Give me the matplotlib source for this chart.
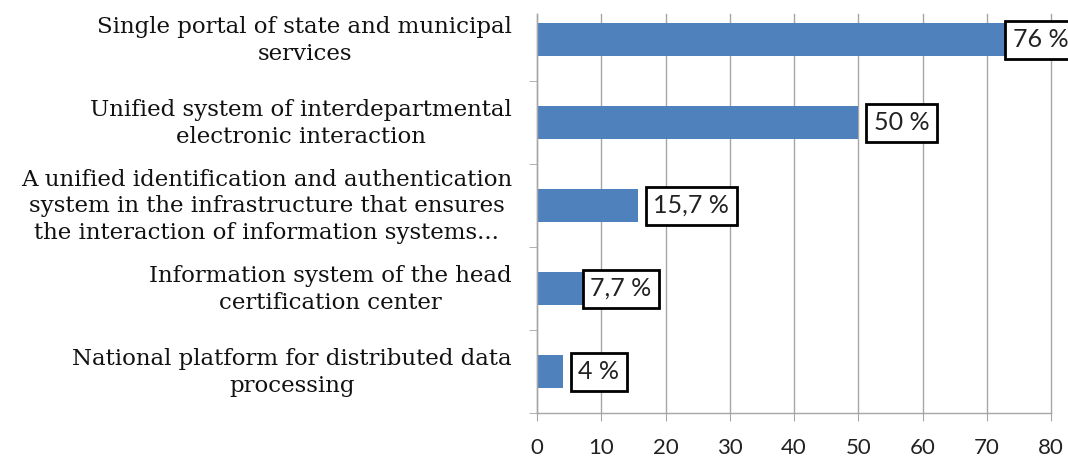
import matplotlib
matplotlib.use("Agg")
import matplotlib.pyplot as plt
import matplotlib.transforms as mtransforms
from matplotlib.ticker import FixedLocator

# Share of respondents using each e-government infrastructure component
categories = [
    "Single portal of state and municipal\nservices",
    "Unified system of interdepartmental\nelectronic interaction",
    "A unified identification and authentication\nsystem in the infrastructure that ensures\nthe interaction of information systems...",
    "Information system of the head\ncertification center",
    "National platform for distributed data\nprocessing",
]
values = [76, 50, 15.7, 7.7, 4]
value_labels = ["76 %", "50 %", "15,7 %", "7,7 %", "4 %"]
x_ticks = [0, 10, 20, 30, 40, 50, 60, 70, 80]

# horizontal nudges (pixels) for the value boxes
label_nudge = [-12.5, 15.5, 15.5, 4, 15.5]

BAR = "#4F81BD"
GRID = "#A6A6A6"

W, H = 1068, 459
AX_L, AX_R, AX_T, AX_B = 537, 1051, 14, 413
ROW = 83.0  # pixel height of one category row

fig = plt.figure(figsize=(W / 100, H / 100), dpi=100)
ax = fig.add_axes([AX_L / W, 1 - AX_B / H, (AX_R - AX_L) / W, (AX_B - AX_T) / H])

n = len(categories)
ypos = list(range(n))
ax.barh(ypos, values, height=0.40, color=BAR, zorder=2)

ax.set_xlim(0, 80)
ax.set_ylim(n - 0.5, n - 0.5 - (AX_B - AX_T) / ROW)

ax.set_xticks(x_ticks)
ax.set_xticklabels([str(t) for t in x_ticks], fontfamily="Lato", fontsize=16, color="#222222")
ax.xaxis.grid(True, color=GRID, linewidth=1.0, zorder=0)
for gl in ax.get_xgridlines():
    gl.set_clip_on(False)
ax.tick_params(axis="x", length=6, color=GRID, pad=12, direction="out")

ax.set_yticks(ypos)
ax.set_yticklabels(categories, fontfamily="DejaVu Serif", fontsize=16.5,
                   multialignment="center", color="#111111", linespacing=1.28)
ax.tick_params(axis="y", which="major", length=0, pad=18)
ax.yaxis.set_minor_locator(FixedLocator([i + 0.5 for i in range(n)]))
ax.tick_params(axis="y", which="minor", length=6, color=GRID, direction="out")

# lift the category labels slightly
lift = mtransforms.ScaledTranslation(0, 4 / 100, fig.dpi_scale_trans)
for lbl in ax.get_yticklabels():
    lbl.set_transform(lbl.get_transform() + lift)

for side in ("top", "right"):
    ax.spines[side].set_visible(False)
for side in ("left", "bottom"):
    ax.spines[side].set_color(GRID)
    ax.spines[side].set_linewidth(1.0)

for y, v, lab, dx in zip(ypos, values, value_labels, label_nudge):
    ax.annotate(lab, xy=(v, y), xytext=(dx, 0), textcoords="offset pixels",
                ha="left", va="center", fontfamily="Lato", fontsize=18, color="#222222",
                bbox=dict(boxstyle="square,pad=0.3", facecolor="white",
                          edgecolor="black", linewidth=2),
                annotation_clip=False, zorder=5)

fig.savefig("out.png", dpi=100)
